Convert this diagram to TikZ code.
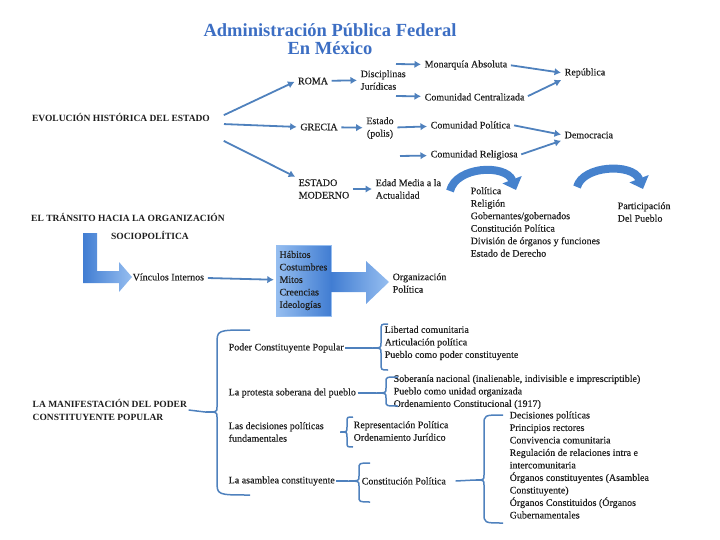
\documentclass[tikz,border=0pt]{standalone}
\usepackage{fontspec}
\setmainfont{Liberation Serif}
\newfontfamily\semibd{Liberation Serif}[FakeBold=0.35]
\usetikzlibrary{arrows.meta}

\definecolor{ink}{RGB}{30,30,30}
\definecolor{arrowblue}{RGB}{79,129,189}
\definecolor{titleblue}{RGB}{60,110,195}
\definecolor{blueA}{RGB}{150,190,240}
\definecolor{blueB}{RGB}{65,125,210}
\definecolor{curveblue}{RGB}{70,130,205}

% curly bracket: end x, spine x, tip x, top y, tip y, bottom y, tip name, end radius
\newcommand{\curlybr}[8]{%
  \coordinate (#7) at (#3,#5);
  \draw[brline] (#1,#4) .. controls (#2,#4) .. (#2,#4+#8) -- (#2,#5-5)
    .. controls (#2,#5) .. (#7) .. controls (#2,#5) .. (#2,#5+5)
    -- (#2,#6-#8) .. controls (#2,#6) .. (#1,#6);
}

\begin{document}
\begin{tikzpicture}[x=1pt,y=-1pt,
  txt/.style={text=ink,font=\semibd\fontsize{10}{12.5}\selectfont,inner sep=1.5pt,align=left},
  hd/.style={txt,font=\fontsize{9.5}{12.5}\selectfont\bfseries},
  arr/.style={draw=arrowblue,line width=1.8pt,-{Latex[length=6.5pt,width=7.5pt]},shorten >=2pt,shorten <=2pt},
  brline/.style={draw=arrowblue,line width=1.5pt},
  curvarr/.style={draw=curveblue,line width=8pt,-{Triangle[length=11pt,width=20pt]}},
  bigarrow/.style={draw=none,left color=blueB,right color=blueA},
  box/.style={txt,draw=blueA,left color=blueA,right color=blueB,minimum width=55pt,minimum height=71pt,text width=48pt,inner sep=3pt}
]
\useasboundingbox (0,0) rectangle (720,540);

% Title
\node (title) [font=\fontsize{18.5}{18.5}\selectfont\bfseries,text=titleblue,align=center] at (330,39) {Administración Pública Federal\\En México};

% Evolution of the state
\node (evol) [hd] at (121,117) {EVOLUCIÓN HISTÓRICA DEL ESTADO};
\coordinate (e1) at (222,116);
\coordinate (e2) at (222,124);
\coordinate (e3) at (222,140);

\node (roma) [txt] at (313,81) {ROMA};
\node (discip) [txt,anchor=west] at (359,80) {Disciplinas\\Jurídicas};
\node (monarq) [txt,anchor=west] at (423,65) {Monarquía Absoluta};
\node (comcen) [txt,anchor=west] at (423,97) {Comunidad Centralizada};
\node (repub) [txt,anchor=west] at (563,73) {República};
\coordinate (m0) at (394,64);
\coordinate (c0) at (394,96);

\node (grecia) [txt] at (319,127) {GRECIA};
\node (estado) [txt,align=center] at (380,128) {Estado\\(polis)};
\node (compol) [txt,anchor=west] at (429,125) {Comunidad Política};
\node (comrel) [txt,anchor=west] at (429,155) {Comunidad Religiosa};
\node (democ) [txt,anchor=west] at (563,135) {Democracia};
\coordinate (r0) at (398,156);

\node (estmod) [txt,anchor=west] at (297,189) {ESTADO\\MODERNO};
\node (edad) [txt,anchor=west] at (374,189) {Edad Media a la\\Actualidad};
\node (listpol) [txt,anchor=west] at (469,222) {Política\\Religión\\Gobernantes/gobernados\\Constitución Política\\División de órganos y funciones\\Estado de Derecho};
\node (partic) [txt,anchor=west] at (616,212) {Participación\\Del Pueblo};

\draw[arr] (e1) -- (roma.west);
\draw[arr] (e2) -- (grecia.west);
\draw[arr] (e3) -- (estmod.north west);
\draw[arr] (roma) -- (discip);
\draw[arr] (m0) -- (monarq);
\draw[arr] (c0) -- (comcen);
\draw[arr] (monarq.east) -- (repub.west);
\draw[arr] (comcen.east) -- (repub.south west);
\draw[arr] (grecia) -- (estado);
\draw[arr] (estado) -- (compol);
\draw[arr] (r0) -- (comrel);
\draw[arr] (compol.east) -- (democ.west);
\draw[arr] (comrel.east) -- (democ.south west);
\draw[arr] (estmod) -- (edad);

% Curved arrows
\draw[curvarr] (450,191) .. controls (456,166) and (506,164) .. (516,190);
\draw[curvarr] (577,187) .. controls (583,165) and (633,163) .. (643,189);

% Transit to the sociopolitical organisation
\node (trans) [hd] at (128,217) {EL TRÁNSITO HACIA LA ORGANIZACIÓN};
\node (socio) [hd] at (150,235) {SOCIOPOLÍTICA};
\shade[bigarrow] (83,233) -- (97,233) -- (97,271) -- (119,271) -- (119,262) -- (132,277)
  -- (119,292) -- (119,283) -- (83,283) -- cycle;
\node (vinc) [txt,anchor=west] at (131,277) {Vínculos Internos};
\node (habits) [box] at (303.5,280.5) {Hábitos\\Costumbres\\Mitos\\Creencias\\Ideologías};
\draw[arr] (vinc) -- (habits);
\shade[bigarrow] (331,272) -- (366,272) -- (366,261) -- (389,282) -- (366,304) -- (366,292)
  -- (331,292) -- cycle;
\node (org) [txt,anchor=west] at (391,283) {Organización\\Política};

% Constituent power
\node (manif) [hd,anchor=west] at (31,410) {LA MANIFESTACIÓN DEL PODER\\CONSTITUYENTE POPULAR};
\curlybr{250}{217}{205}{330}{412}{495}{tb}{14}
\draw[brline] (manif.east) -- (tb);

\node (pcp) [txt,anchor=west] at (227,348) {Poder Constituyente Popular};
\node (libert) [txt,anchor=west] at (383,343) {Libertad comunitaria\\Articulación política\\Pueblo como poder constituyente};
\curlybr{388}{381}{372}{324}{348}{370}{t1}{7}
\draw[brline] (pcp.east) -- (t1);

\node (prot) [txt,anchor=west] at (227,393) {La protesta soberana del pueblo};
\node (sober) [txt,anchor=west] at (392,392) {Soberanía nacional (inalienable, indivisible e imprescriptible)\\Pueblo como unidad organizada\\Ordenamiento Constitucional (1917)};
\curlybr{398}{386}{376}{377}{393}{406}{t2}{5}
\draw[brline] (prot.east) -- (t2);

\node (decis) [txt,anchor=west] at (227,432) {Las decisiones políticas\\fundamentales};
\node (repr) [txt,anchor=west] at (352,431) {Representación Política\\Ordenamiento Jurídico};
\curlybr{353}{347}{340}{417}{432}{447}{t3}{5}

\node (asamb) [txt,anchor=west] at (227,481) {La asamblea constituyente};
\node (const) [txt,anchor=west] at (360,481) {Constitución Política};
\curlybr{370}{359}{348}{463}{481}{502}{t4}{6}
\draw[brline] (asamb.east) -- (t4);

\node (declist) [txt,anchor=west] at (508,465) {Decisiones políticas\\Principios rectores\\Convivencia comunitaria\\Regulación de relaciones intra e\\intercomunitaria\\Órganos constituyentes (Asamblea\\Constituyente)\\Órganos Constituidos (Órganos\\Gubernamentales};
\curlybr{503}{484}{475}{415}{480}{523}{t5}{10}
\draw[brline] ([xshift=8pt]const.east) -- (t5);

\end{tikzpicture}
\end{document}
